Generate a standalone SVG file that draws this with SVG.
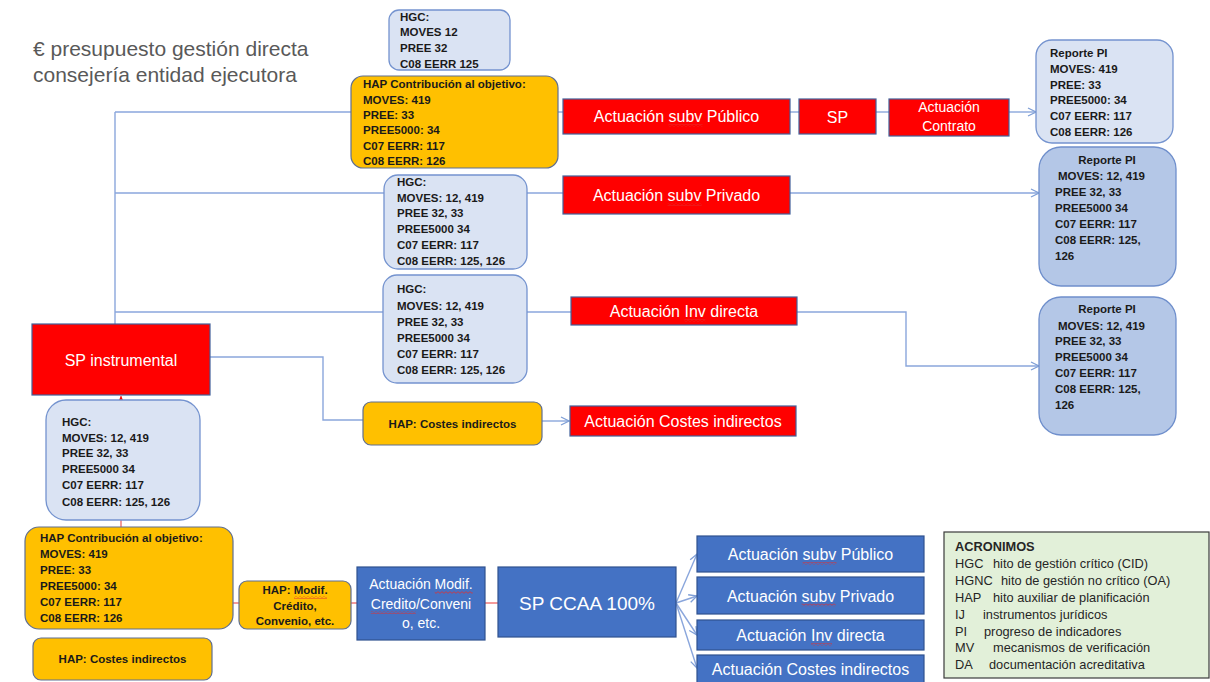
<svg xmlns="http://www.w3.org/2000/svg" width="1210" height="682" viewBox="0 0 1210 682">
<style>
.t{font-family:"Liberation Sans",Arial,sans-serif}
.b{font-family:"Liberation Sans",Arial,sans-serif;font-weight:bold;font-size:11.5px;fill:#1a1a1a}
.w{font-family:"Liberation Sans",Arial,sans-serif;font-size:16px;fill:#ffffff;text-anchor:middle}
.w14{font-family:"Liberation Sans",Arial,sans-serif;font-size:14px;fill:#ffffff;text-anchor:middle}
.lb{fill:#dae3f3;stroke:#7493cf;stroke-width:1.3}
.mb{fill:#b4c7e7;stroke:#6f8fcc;stroke-width:1.3}
.or{fill:#ffc000;stroke:#5f6f92;stroke-width:1.2}
.rd{fill:#ff0000;stroke:#41609a;stroke-width:1.2}
.bl{fill:#4472c4;stroke:#2f528f;stroke-width:1.2}
.cn{fill:none;stroke:#8aa6dc;stroke-width:1.4}
.cr{fill:none;stroke:#f07070;stroke-width:1.4}
.ac{font-family:"Liberation Sans",Arial,sans-serif;font-size:12.8px;fill:#262626}
.sq{fill:url(#sqp)}
</style>
<defs>
<marker id="ab" markerWidth="10" markerHeight="10" refX="9" refY="5" orient="auto" markerUnits="userSpaceOnUse"><path d="M1,1 L9,5 L1,9" fill="none" stroke="#7f9fd6" stroke-width="1.3"/></marker>
<marker id="ar" markerWidth="8" markerHeight="8" refX="6" refY="3" orient="auto" markerUnits="userSpaceOnUse"><path d="M0,0 L6,3 L0,6 z" fill="#ff0000"/></marker>
<pattern id="sqp" width="4" height="3" patternUnits="userSpaceOnUse"><path d="M0,2.3 L2,0.7 L4,2.3" fill="none" stroke="#e03030" stroke-width="0.8"/></pattern>
</defs>
<rect width="1210" height="682" fill="#ffffff"/>

<g id="title">
<text class="t" x="33" y="56" font-size="21" fill="#595959">€ presupuesto gestión directa</text>
<text class="t" x="33" y="82" font-size="21" fill="#595959">consejería entidad ejecutora</text>
</g>

<g id="connectors">
<path class="cn" d="M115,112 V324"/>
<path class="cn" d="M115,112 H351"/>
<path class="cn" d="M115,193 H384"/>
<path class="cn" d="M115,312 H383"/>
<path class="cn" d="M558,112 H563"/>
<path class="cn" d="M790,112 H799"/>
<path class="cn" d="M876,112 H889"/>
<path class="cn" d="M1009,112 H1036" marker-end="url(#ab)"/>
<path class="cn" d="M527,193 H563"/>
<path class="cn" d="M790,193 H1039" marker-end="url(#ab)"/>
<path class="cn" d="M527,312 H571"/>
<path class="cn" d="M797,312 H906 V366 H1039" marker-end="url(#ab)"/>
<path class="cn" d="M210,357 H323 V420 H363"/>
<path class="cn" d="M542,421 H569" marker-end="url(#ab)"/>
<path class="cn" d="M676,603 L697,554" marker-end="url(#ab)"/>
<path class="cn" d="M676,603 L697,596" marker-end="url(#ab)"/>
<path class="cn" d="M676,603 L697,635" marker-end="url(#ab)"/>
<path class="cn" d="M676,603 L697,668" marker-end="url(#ab)"/>
<path class="cr" d="M121,527 V396" marker-end="url(#ar)"/>
<path class="cr" d="M233,603 H239"/>
<path class="cr" d="M351,603 H357"/>
<path class="cr" d="M485,603 H498"/>
</g>

<g id="hgc-top">
<rect class="lb" x="389" y="10" width="121" height="60" rx="10"/>
<text class="b" x="400" y="21">HGC:</text>
<text class="b" x="400" y="36">MOVES 12</text>
<text class="b" x="400" y="51.5">PREE 32</text>
<text class="b" x="400" y="67.5">C08 EERR 125</text>
</g>

<g id="hap-top">
<rect class="or" x="351" y="76" width="207" height="92" rx="12"/>
<text class="b" x="363" y="88">HAP Contribución al objetivo:</text>
<text class="b" x="363" y="103.5">MOVES: 419</text>
<text class="b" x="363" y="118.5">PREE: 33</text>
<text class="b" x="363" y="134">PREE5000: 34</text>
<text class="b" x="363" y="149.5">C07 EERR: 117</text>
<text class="b" x="363" y="164.5">C08 EERR: 126</text>
</g>

<g id="hgc-2">
<rect class="lb" x="384" y="175" width="143" height="94" rx="14"/>
<text class="b" x="397" y="186">HGC:</text>
<text class="b" x="397" y="201.5">MOVES: 12, 419</text>
<text class="b" x="397" y="217">PREE 32, 33</text>
<text class="b" x="397" y="233">PREE5000 34</text>
<text class="b" x="397" y="249">C07 EERR: 117</text>
<text class="b" x="397" y="265">C08 EERR: 125, 126</text>
</g>

<g id="hgc-3">
<rect class="lb" x="383" y="275" width="144" height="108" rx="14"/>
<text class="b" x="397" y="293">HGC:</text>
<text class="b" x="397" y="309.5">MOVES: 12, 419</text>
<text class="b" x="397" y="325.5">PREE 32, 33</text>
<text class="b" x="397" y="341.5">PREE5000 34</text>
<text class="b" x="397" y="358">C07 EERR: 117</text>
<text class="b" x="397" y="374">C08 EERR: 125, 126</text>
</g>

<g id="act-publico">
<rect class="rd" x="563" y="99" width="227" height="35"/>
<text class="w" x="676.5" y="122">Actuación subv Público</text>
<rect class="sq" x="668.5" y="124" width="34" height="3"/>
</g>

<g id="sp-top">
<rect class="rd" x="799" y="99" width="77" height="35"/>
<text class="w" x="837.5" y="123">SP</text>
</g>

<g id="act-contrato">
<rect class="rd" x="889" y="99" width="120" height="37"/>
<text class="w14" x="949" y="112">Actuación</text>
<text class="w14" x="949" y="131">Contrato</text>
</g>

<g id="act-privado">
<rect class="rd" x="563" y="176" width="227" height="38"/>
<text class="w" x="676.5" y="201">Actuación subv Privado</text>
<rect class="sq" x="667.6" y="203" width="34" height="3"/>
</g>

<g id="act-inv">
<rect class="rd" x="571" y="297" width="226" height="28"/>
<text class="w" x="684" y="317">Actuación Inv directa</text>
<rect class="sq" x="684.4" y="319" width="21" height="3"/>
</g>

<g id="act-costes">
<rect class="rd" x="570" y="406" width="226" height="30"/>
<text class="w" x="683" y="427">Actuación Costes indirectos</text>
</g>

<g id="reporte-1">
<rect class="lb" x="1036" y="40" width="137" height="103" rx="16"/>
<text class="b" x="1050" y="57">Reporte PI</text>
<text class="b" x="1050" y="72.5">MOVES: 419</text>
<text class="b" x="1050" y="88.5">PREE: 33</text>
<text class="b" x="1050" y="104">PREE5000: 34</text>
<text class="b" x="1050" y="120">C07 EERR: 117</text>
<text class="b" x="1050" y="136">C08 EERR: 126</text>
</g>

<g id="reporte-2">
<rect class="mb" x="1039" y="147" width="137" height="139" rx="22"/>
<text class="b" x="1107" y="164" text-anchor="middle">Reporte PI</text>
<text class="b" x="1058" y="180">MOVES: 12, 419</text>
<text class="b" x="1055" y="196">PREE 32, 33</text>
<text class="b" x="1055" y="212">PREE5000 34</text>
<text class="b" x="1055" y="228">C07 EERR: 117</text>
<text class="b" x="1055" y="244">C08 EERR: 125,</text>
<text class="b" x="1055" y="260">126</text>
</g>

<g id="reporte-3">
<rect class="mb" x="1039" y="297" width="137" height="138" rx="22"/>
<text class="b" x="1107" y="313" text-anchor="middle">Reporte PI</text>
<text class="b" x="1058" y="329.5">MOVES: 12, 419</text>
<text class="b" x="1055" y="345">PREE 32, 33</text>
<text class="b" x="1055" y="361">PREE5000 34</text>
<text class="b" x="1055" y="377">C07 EERR: 117</text>
<text class="b" x="1055" y="393">C08 EERR: 125,</text>
<text class="b" x="1055" y="409">126</text>
</g>

<g id="sp-instrumental">
<rect class="rd" x="32" y="324" width="178" height="71"/>
<text class="w" x="121" y="366">SP instrumental</text>
</g>

<g id="hap-costes-mid">
<rect class="or" x="363" y="402" width="179" height="43" rx="8"/>
<text class="b" x="452.5" y="428" text-anchor="middle">HAP: Costes indirectos</text>
</g>

<g id="hgc-left">
<rect class="lb" x="46" y="400" width="154" height="120" rx="20"/>
<text class="b" x="62" y="426">HGC:</text>
<text class="b" x="62" y="441.5">MOVES: 12, 419</text>
<text class="b" x="62" y="457">PREE 32, 33</text>
<text class="b" x="62" y="473">PREE5000 34</text>
<text class="b" x="62" y="489">C07 EERR: 117</text>
<text class="b" x="62" y="505.5">C08 EERR: 125, 126</text>
</g>

<g id="hap-bottom">
<rect class="or" x="25" y="527" width="208" height="102" rx="14"/>
<text class="b" x="40" y="542">HAP Contribución al objetivo:</text>
<text class="b" x="40" y="558">MOVES: 419</text>
<text class="b" x="40" y="574">PREE: 33</text>
<text class="b" x="40" y="589.5">PREE5000: 34</text>
<text class="b" x="40" y="605.5">C07 EERR: 117</text>
<text class="b" x="40" y="622">C08 EERR: 126</text>
</g>

<g id="hap-costes-bottom">
<rect class="or" x="33" y="638" width="179" height="42" rx="8"/>
<text class="b" x="122.5" y="663" text-anchor="middle">HAP: Costes indirectos</text>
</g>

<g id="hap-modif">
<rect class="or" x="239" y="581" width="112" height="48" rx="8"/>
<text class="b" x="295" y="594" text-anchor="middle">HAP: Modif.</text>
<text class="b" x="295" y="609.5" text-anchor="middle">Crédito,</text>
<text class="b" x="295" y="625" text-anchor="middle">Convenio, etc.</text>
<rect class="sq" x="294" y="596" width="33" height="3"/>
</g>

<g id="act-modif">
<rect class="bl" x="357" y="567" width="128" height="73"/>
<text class="w14" x="421" y="589">Actuación Modif.</text>
<text class="w14" x="421" y="609">Credito/Conveni</text>
<text class="w14" x="421" y="628">o, etc.</text>
<rect class="sq" x="434.7" y="591" width="38" height="3"/>
<rect class="sq" x="370.8" y="611" width="45" height="3"/>
</g>

<g id="sp-ccaa">
<rect class="bl" x="498" y="567" width="178" height="70"/>
<text class="t" x="587" y="610" font-size="19" fill="#ffffff" text-anchor="middle">SP CCAA 100%</text>
</g>

<g id="b-publico">
<rect class="bl" x="697" y="536" width="227" height="36"/>
<text class="w" x="810.5" y="560">Actuación subv Público</text>
<rect class="sq" x="802.5" y="562" width="34" height="3"/>
</g>

<g id="b-privado">
<rect class="bl" x="697" y="577" width="227" height="37"/>
<text class="w" x="810.5" y="601.5">Actuación subv Privado</text>
<rect class="sq" x="801.6" y="603.5" width="34" height="3"/>
</g>

<g id="b-inv">
<rect class="bl" x="697" y="620" width="227" height="30"/>
<text class="w" x="810.5" y="641">Actuación Inv directa</text>
<rect class="sq" x="811" y="643" width="21" height="3"/>
</g>

<g id="b-costes">
<rect class="bl" x="697" y="655" width="227" height="28"/>
<text class="w" x="810.5" y="675">Actuación Costes indirectos</text>
</g>

<g id="acronimos">
<rect x="944" y="532" width="265" height="146" fill="#e2f0d9" stroke="#3b3b3b" stroke-width="1.2"/>
<text class="ac" x="955" y="551" font-weight="bold">ACRONIMOS</text>
<text class="ac" x="955" y="568">HGC</text><text class="ac" x="993" y="568">hito de gestión crítico (CID)</text>
<text class="ac" x="955" y="585">HGNC</text><text class="ac" x="1001" y="585">hito de gestión no crítico (OA)</text>
<text class="ac" x="955" y="602">HAP</text><text class="ac" x="993" y="602">hito auxiliar de planificación</text>
<text class="ac" x="955" y="619">IJ</text><text class="ac" x="983" y="619">instrumentos jurídicos</text>
<text class="ac" x="955" y="636">PI</text><text class="ac" x="984" y="636">progreso de indicadores</text>
<text class="ac" x="955" y="652">MV</text><text class="ac" x="993" y="652">mecanismos de verificación</text>
<text class="ac" x="955" y="669">DA</text><text class="ac" x="989" y="669">documentación acreditativa</text>
</g>
</svg>
